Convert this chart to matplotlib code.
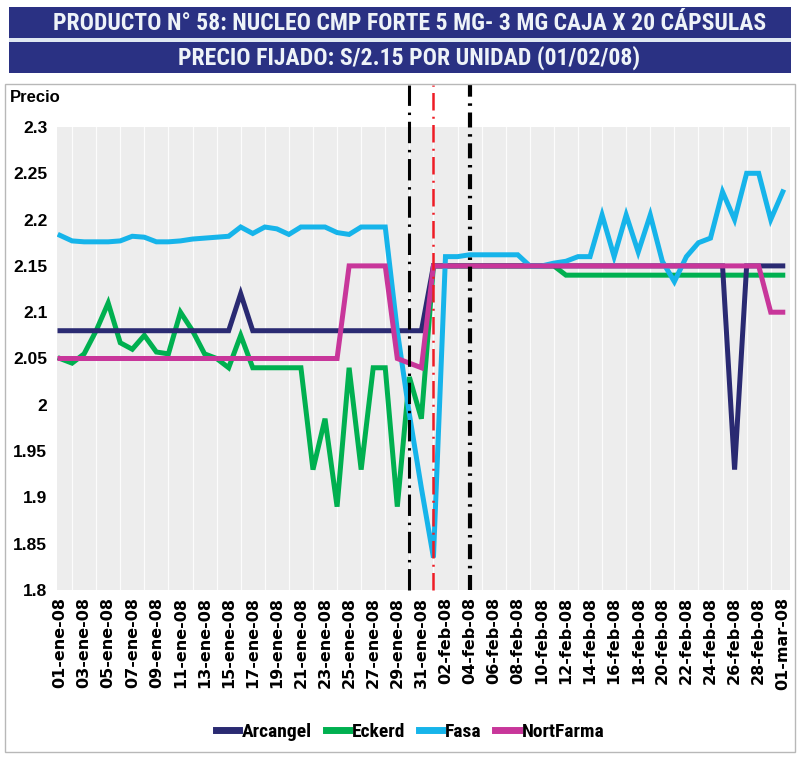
import matplotlib
matplotlib.use('Agg')
import matplotlib.pyplot as plt
from matplotlib import font_manager as fm
from matplotlib.patches import Rectangle
import pandas as pd

# ---------------- data ----------------
fechas = pd.date_range('2008-01-01', '2008-03-01', freq='D')
meses = {1: 'ene', 2: 'feb', 3: 'mar'}
categorias = [f"{d.day:02d}-{meses[d.month]}-08" for d in fechas]
etiquetas_x = categorias[::2]

arcangel = [2.08, 2.08, 2.08, 2.08, 2.08, 2.08, 2.08, 2.08, 2.08, 2.08,
            2.08, 2.08, 2.08, 2.08, 2.08, 2.12, 2.08, 2.08, 2.08, 2.08,
            2.08, 2.08, 2.08, 2.08, 2.08, 2.08, 2.08, 2.08, 2.08, 2.08,
            2.08, 2.15, 2.15, 2.15, 2.15, 2.15, 2.15, 2.15, 2.15, 2.15,
            2.15, 2.15, 2.15, 2.15, 2.15, 2.15, 2.15, 2.15, 2.15, 2.15,
            2.15, 2.15, 2.15, 2.15, 2.15, 2.15, 1.93, 2.15, 2.15, 2.15,
            2.15]
eckerd = [2.05, 2.045, 2.055, 2.08, 2.11, 2.067, 2.06, 2.075, 2.057, 2.055,
          2.10, 2.08, 2.055, 2.05, 2.04, 2.075, 2.04, 2.04, 2.04, 2.04,
          2.04, 1.93, 1.985, 1.89, 2.04, 1.93, 2.04, 2.04, 1.89, 2.03,
          1.985, 2.15, 2.15, 2.15, 2.15, 2.15, 2.15, 2.15, 2.15, 2.15,
          2.15, 2.15, 2.14, 2.14, 2.14, 2.14, 2.14, 2.14, 2.14, 2.14,
          2.14, 2.14, 2.14, 2.14, 2.14, 2.14, 2.14, 2.14, 2.14, 2.14,
          2.14]
fasa = [2.183, 2.177, 2.176, 2.176, 2.176, 2.177, 2.182, 2.181, 2.176, 2.176,
        2.177, 2.179, 2.18, 2.181, 2.182, 2.192, 2.185, 2.192, 2.19, 2.184,
        2.192, 2.192, 2.192, 2.186, 2.184, 2.192, 2.192, 2.192, 2.08, 1.99,
        1.91, 1.835, 2.16, 2.16, 2.162, 2.162, 2.162, 2.162, 2.162, 2.15,
        2.15, 2.153, 2.155, 2.16, 2.16, 2.205, 2.16, 2.205, 2.165, 2.205,
        2.155, 2.133, 2.16, 2.175, 2.18, 2.23, 2.2, 2.25, 2.25, 2.2,
        2.23]
nortfarma = [2.05, 2.05, 2.05, 2.05, 2.05, 2.05, 2.05, 2.05, 2.05, 2.05,
             2.05, 2.05, 2.05, 2.05, 2.05, 2.05, 2.05, 2.05, 2.05, 2.05,
             2.05, 2.05, 2.05, 2.05, 2.15, 2.15, 2.15, 2.15, 2.05, 2.045,
             2.04, 2.15, 2.15, 2.15, 2.15, 2.15, 2.15, 2.15, 2.15, 2.15,
             2.15, 2.15, 2.15, 2.15, 2.15, 2.15, 2.15, 2.15, 2.15, 2.15,
             2.15, 2.15, 2.15, 2.15, 2.15, 2.15, 2.15, 2.15, 2.15, 2.10,
             2.10]

series = ['Arcangel', 'Eckerd', 'Fasa', 'NortFarma']
colores = ['#2a2a72', '#00b050', '#16b4ea', '#c8369a']
y_ticks = [1.8, 1.85, 1.9, 1.95, 2.0, 2.05, 2.1, 2.15, 2.2, 2.25, 2.3]
y_labels = ['1.8', '1.85', '1.9', '1.95', '2', '2.05', '2.1', '2.15', '2.2', '2.25', '2.3']
titulo1 = 'PRODUCTO N° 58: NUCLEO CMP FORTE 5 MG- 3 MG CAJA X 20 CÁPSULAS'
titulo2 = 'PRECIO FIJADO: S/2.15 POR UNIDAD (01/02/08)'
fechas_marcadas = ['30-ene-08', '01-feb-08', '04-feb-08']

# ---------------- fonts ----------------
names = {f.name for f in fm.fontManager.ttflist}
NARROW = next((n for n in ['Liberation Sans Narrow', 'Roboto Condensed',
                           'Open Sans Condensed'] if n in names), 'Liberation Sans')

W, H = 799, 757
fig = plt.figure(figsize=(W / 100, H / 100), dpi=100)
fig.patch.set_facecolor('white')

def fig_rect(x0, y0, x1, y1, **kw):
    r = Rectangle((x0 / W, 1 - y1 / H), (x1 - x0) / W, (y1 - y0) / H,
                  transform=fig.transFigure, **kw)
    fig.add_artist(r)
    return r

# outer frame
fig_rect(5, 84, 795, 752, facecolor='none', edgecolor='#b8b8b8', lw=1)
# banners
BANNER = '#2a3183'
fig_rect(9, 7, 791, 38, facecolor=BANNER, edgecolor='none')
fig_rect(9, 38, 791, 42, facecolor='#dfe8f2', edgecolor='none')
fig_rect(9, 42, 791, 73, facecolor=BANNER, edgecolor='none')

t1 = fig.text(410 / W, 1 - 23 / H, titulo1, ha='center', va='center', color='#eef3f8',
              fontsize=20, fontweight='bold', family=[NARROW, 'DejaVu Sans'])
t2 = fig.text(409 / W, 1 - 57.5 / H, titulo2, ha='center', va='center', color='#eef3f8',
              fontsize=20, fontweight='bold', family=[NARROW, 'DejaVu Sans'])

# ---------------- axes ----------------
ax = fig.add_axes([57 / W, 1 - 590 / H, (790 - 57) / W, (590 - 127) / H])
ax.set_facecolor('#ededed')
x = list(range(len(categorias)))

datos = [arcangel, eckerd, fasa, nortfarma]
zs = [3, 2, 4, 5]
for nombre, vals, c, z in zip(series, datos, colores, zs):
    ax.plot(x, vals, color=c, lw=3.6, label=nombre, zorder=z, solid_joinstyle='miter')

ax.set_xlim(-0.25, 60.6)
ax.set_ylim(1.8, 2.3)
ax.set_yticks(y_ticks)
ax.set_yticklabels(y_labels, fontsize=12.5, fontweight='bold', family='Liberation Sans')
ax.set_xticks(x[::2])
ax.set_xticklabels(etiquetas_x, rotation=90, fontsize=11.5, fontweight='bold',
                   family='DejaVu Sans')
ax.set_xticks(x, minor=True)
ax.grid(which='minor', axis='x', color='white', lw=0.9, alpha=0.85, zorder=0)
ax.set_axisbelow(True)
ax.tick_params(axis='both', which='both', length=0)
ax.tick_params(axis='y', pad=7)
ax.tick_params(axis='x', pad=5)
for s in ax.spines.values():
    s.set_visible(False)

# marked dates (vertical dash-dot lines, extending above plot)
idx = [categorias.index(f) for f in fechas_marcadas]
ax.axvline(idx[0], ymin=0, ymax=1.09, color='black', lw=2.2, ls=(0, (7, 2.2, 0.8, 2.2)),
           clip_on=False, zorder=6)
ax.axvline(idx[1], ymin=0, ymax=1.09, color='#ee1c25', lw=1.8, ls=(0, (7, 2.5, 0.8, 2.5)),
           clip_on=False, zorder=6)
ax.axvline(idx[2], ymin=0, ymax=1.09, color='black', lw=3.0, ls=(0, (3.6, 1.6, 0.6, 1.6)),
           clip_on=False, zorder=6)

fig.text(10 / W, 1 - 97 / H, 'Precio', ha='left', va='center', fontsize=12,
         fontweight='bold', family='Liberation Sans')

leg = fig.legend(loc='center', bbox_to_anchor=(410 / W, 1 - 732 / H), ncol=4,
                 frameon=False, handlelength=1.2, handletextpad=0.15, columnspacing=0.7,
                 prop={'family': [NARROW, 'DejaVu Sans'], 'weight': 'bold', 'size': 14})
for h in leg.get_lines():
    h.set_linewidth(5)

# fit title widths to reference
fig.canvas.draw()
r = fig.canvas.get_renderer()
for t, target in [(t1, 712), (t2, 462)]:
    w = t.get_window_extent(r).width
    t.set_fontsize(t.get_fontsize() * target / w)

fig.savefig('out.png', dpi=100, facecolor='white')
